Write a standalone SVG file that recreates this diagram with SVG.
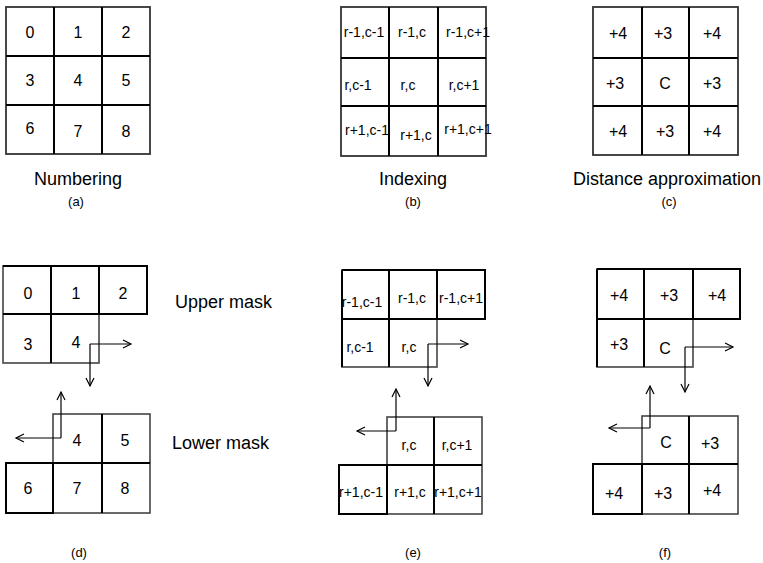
<svg xmlns="http://www.w3.org/2000/svg" width="763" height="563" viewBox="0 0 763 563">
<defs>
<style>
.c{fill:#fff;stroke:#000;stroke-width:2}
.g{fill:none;stroke:#444;stroke-width:1.6}
.in{stroke:#000;stroke-width:2;fill:none}
.t{font-family:"Liberation Sans",Arial,sans-serif;font-size:16px;fill:#000;text-anchor:middle}
.s{font-family:"Liberation Sans",Arial,sans-serif;font-size:14px;fill:#000;text-anchor:middle}
.l{font-family:"Liberation Sans",Arial,sans-serif;font-size:18px;fill:#000;text-anchor:middle}
.la{font-family:"Liberation Sans",Arial,sans-serif;font-size:18px;fill:#000}
.p{font-family:"Liberation Sans",Arial,sans-serif;font-size:13px;fill:#000;text-anchor:middle}
.a{fill:none;stroke:#000;stroke-width:1.2;marker-end:url(#ah)}
</style>
<marker id="ah" viewBox="-10 -6 12 12" refX="0" refY="0" markerWidth="12" markerHeight="12" markerUnits="userSpaceOnUse" orient="auto">
<path d="M-8,-4 L0,0 L-8,4" fill="none" stroke="#000" stroke-width="1.2"/>
</marker>
</defs>
<rect width="763" height="563" fill="#fff"/>

<g id="grid-a">
<rect x="6" y="7" width="144" height="147" fill="#fff" stroke="#333" stroke-width="1.8"/>
<path class="in" d="M54,7V154M102,7V154M6,56H150M6,105H150"/>
<text class="t" x="30" y="38">0</text><text class="t" x="78" y="38">1</text><text class="t" x="126" y="38">2</text>
<text class="t" x="30" y="86">3</text><text class="t" x="78" y="86">4</text><text class="t" x="126" y="86">5</text>
<text class="t" x="30" y="134">6</text><text class="t" x="78" y="137">7</text><text class="t" x="126" y="137">8</text>
<text class="l" x="78" y="185">Numbering</text>
<text class="p" x="76" y="206">(a)</text>
</g>

<g id="grid-b">
<rect x="341" y="7" width="145" height="149" fill="#fff" stroke="#333" stroke-width="1.8"/>
<path class="in" d="M389,7V156M438,7V156M341,58H486M341,106H486"/>
<text class="s" x="364" y="37">r-1,c-1</text><text class="s" x="412" y="37">r-1,c</text><text class="s" x="468" y="37">r-1,c+1</text>
<text class="s" x="358" y="90">r,c-1</text><text class="s" x="408" y="90">r,c</text><text class="s" x="464" y="90">r,c+1</text>
<text class="s" x="367" y="135">r+1,c-1</text><text class="s" x="416" y="140">r+1,c</text><text class="s" x="468" y="134">r+1,c+1</text>
<text class="l" x="413" y="185">Indexing</text>
<text class="p" x="413" y="206">(b)</text>
</g>

<g id="grid-c">
<rect x="593" y="7" width="145" height="148" fill="#fff" stroke="#333" stroke-width="1.8"/>
<path class="in" d="M642,7V155M689,7V155M593,58H738M593,106H738"/>
<text class="t" x="618" y="39">+4</text><text class="t" x="663" y="39">+3</text><text class="t" x="712" y="39">+4</text>
<text class="t" x="615" y="89">+3</text><text class="t" x="665" y="89">C</text><text class="t" x="712" y="89">+3</text>
<text class="t" x="618" y="137">+4</text><text class="t" x="665" y="137">+3</text><text class="t" x="712" y="137">+4</text>
<text class="l" x="667" y="185">Distance approximation</text>
<text class="p" x="669" y="206">(c)</text>
</g>

<g id="upper-mask-d">
<rect class="g" x="3" y="266" width="96" height="97" fill="#fff"/>
<path class="in" d="M51,266V363M3,314H99M3,266H99"/>
<rect class="c" x="99" y="266" width="48" height="48"/>
<text class="t" x="28" y="299">0</text><text class="t" x="76" y="299">1</text><text class="t" x="123" y="299">2</text>
<text class="t" x="28" y="350">3</text><text class="t" x="76" y="348">4</text>
</g>
<g id="lower-mask-d">
<rect class="g" x="53" y="414" width="97" height="99" fill="#fff"/>
<path class="in" d="M102,414V513M53,463H150"/>
<rect class="c" x="6" y="463" width="47" height="50"/>
<text class="t" x="77" y="446">4</text><text class="t" x="125" y="446">5</text>
<text class="t" x="28" y="494">6</text><text class="t" x="77" y="494">7</text><text class="t" x="125" y="494">8</text>
</g>
<text class="la" x="175" y="308">Upper mask</text>
<text class="la" x="172" y="449">Lower mask</text>
<text class="p" x="79" y="557">(d)</text>

<g id="upper-mask-e">
<rect class="g" x="342" y="270" width="95" height="97" fill="#fff"/>
<path class="in" d="M389,270V367M342,319H437M342,270H437M342,270V367"/>
<rect class="c" x="437" y="270" width="48" height="49"/>
<text class="s" x="362" y="307">r-1,c-1</text><text class="s" x="412" y="303">r-1,c</text><text class="s" x="461" y="303">r-1,c+1</text>
<text class="s" x="360" y="352">r,c-1</text><text class="s" x="409" y="352">r,c</text>
</g>
<g id="lower-mask-e">
<rect class="g" x="387" y="417" width="95" height="97" fill="#fff"/>
<path class="in" d="M434,417V514M387,465H482"/>
<rect class="c" x="339" y="465" width="48" height="49"/>
<text class="s" x="409" y="450">r,c</text><text class="s" x="457" y="450">r,c+1</text>
<text class="s" x="361" y="497">r+1,c-1</text><text class="s" x="410" y="497">r+1,c</text><text class="s" x="458" y="497">r+1,c+1</text>
</g>
<text class="p" x="413" y="557">(e)</text>

<g id="upper-mask-f">
<rect class="g" x="597" y="269" width="96" height="98" fill="#fff"/>
<path class="in" d="M644,269V367M597,319H693M597,269H693M597,269V367"/>
<rect class="c" x="693" y="269" width="47" height="50"/>
<text class="t" x="619" y="301">+4</text><text class="t" x="669" y="301">+3</text><text class="t" x="717" y="301">+4</text>
<text class="t" x="619" y="350">+3</text><text class="t" x="665" y="354">C</text>
</g>
<g id="lower-mask-f">
<rect class="g" x="642" y="416" width="96" height="98" fill="#fff"/>
<path class="in" d="M689,416V514M642,464H738"/>
<rect class="c" x="593" y="464" width="49" height="50"/>
<text class="t" x="666" y="448">C</text><text class="t" x="710" y="449">+3</text>
<text class="t" x="614" y="499">+4</text><text class="t" x="663" y="499">+3</text><text class="t" x="712" y="496">+4</text>
</g>
<text class="p" x="665" y="557">(f)</text>

<g id="connectors">
<path class="a" d="M90,344H131"/>
<path class="a" d="M90,344V386"/>
<path class="a" d="M61,438V392"/>
<path class="a" d="M61,438H16"/>
<path class="a" d="M428,344H468"/>
<path class="a" d="M428,344V386"/>
<path class="a" d="M396,431V389"/>
<path class="a" d="M396,431H357"/>
<path class="a" d="M685,347H733"/>
<path class="a" d="M685,347V392"/>
<path class="a" d="M650,428V386"/>
<path class="a" d="M650,428H609"/>
</g>
</svg>
